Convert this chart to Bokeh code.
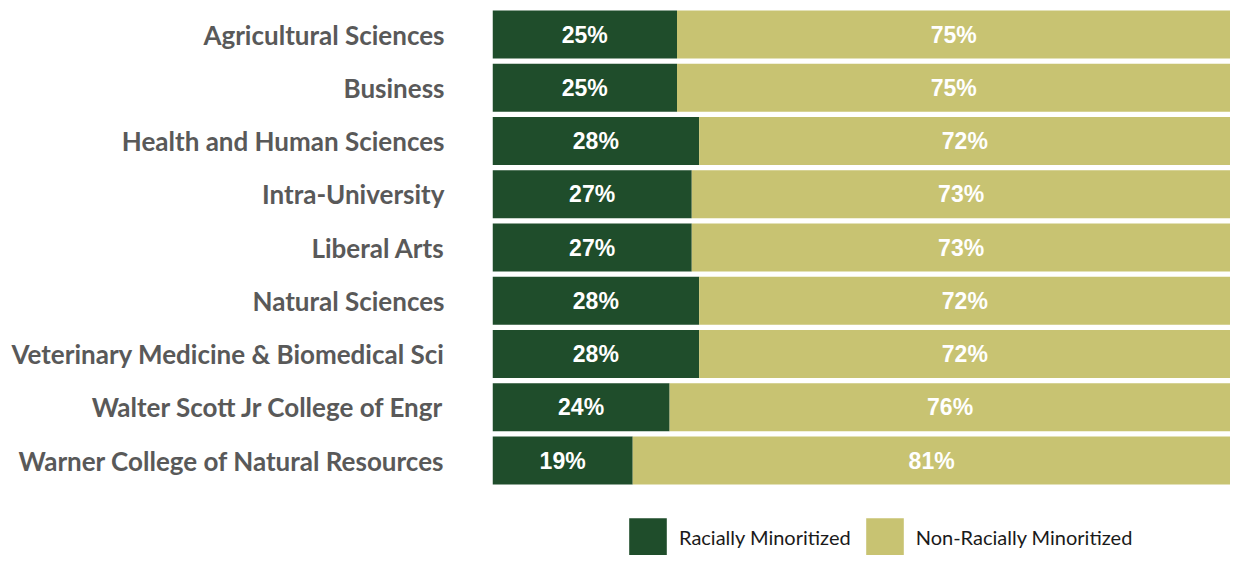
from bokeh.plotting import figure
from bokeh.models import ColumnDataSource, Range1d, Legend, LegendItem, FixedTicker
from bokeh.core.properties import value
from bokeh.embed import file_html
from bokeh.resources import INLINE

categories = [
    "Agricultural Sciences",
    "Business",
    "Health and Human Sciences",
    "Intra-University",
    "Liberal Arts",
    "Natural Sciences",
    "Veterinary Medicine & Biomedical Sci",
    "Walter Scott Jr College of Engr",
    "Warner College of Natural Resources",
]
racially_minoritized = [25, 25, 28, 27, 27, 28, 28, 24, 19]
non_racially_minoritized = [75, 75, 72, 73, 73, 72, 72, 76, 81]
series_names = ["Racially Minoritized", "Non-Racially Minoritized"]
colors = ["#1F4D2B", "#C8C372"]

row_index = list(range(len(categories)))

source = ColumnDataSource(data=dict(
    row=row_index,
    rm=racially_minoritized,
    nrm=non_racially_minoritized,
    rm_x=[v / 2 for v in racially_minoritized],
    nrm_x=[a + b / 2 for a, b in zip(racially_minoritized, non_racially_minoritized)],
    rm_lbl=[f"{v}%" for v in racially_minoritized],
    nrm_lbl=[f"{v}%" for v in non_racially_minoritized],
))

p = figure(
    width=1230, height=555,
    y_range=Range1d(start=9.784, end=-0.6385),
    x_range=Range1d(0, 100),
    x_axis_location=None,
    output_backend="svg", toolbar_location=None,
    min_border_left=492, min_border_right=0,
    min_border_top=0, min_border_bottom=0,
)
p.outline_line_color = None
p.xgrid.visible = False
p.ygrid.visible = False
p.background_fill_color = "white"
p.border_fill_color = "white"

renderers = p.hbar_stack(["rm", "nrm"], y="row", height=0.9, color=colors,
                         line_color=None, source=source)

for xcol, lcol in (("rm_x", "rm_lbl"), ("nrm_x", "nrm_lbl")):
    p.text(x=xcol, y="row", text=lcol, source=source,
           text_font=value("Liberation Sans"), text_font_style="bold",
           text_font_size="23px", text_color="white",
           text_align="center", text_baseline="middle")

ax = p.yaxis[0]
ax.ticker = FixedTicker(ticks=row_index)
ax.major_label_overrides = {i: c for i, c in zip(row_index, categories)}
ax.axis_line_color = None
ax.major_tick_line_color = None
ax.minor_tick_line_color = None
ax.major_tick_out = 0
ax.major_tick_in = 0
ax.major_label_standoff = 48
ax.major_label_text_font = "Lato"
ax.major_label_text_font_style = "bold"
ax.major_label_text_font_size = "26px"
ax.major_label_text_color = "#595959"

legend = Legend(
    items=[LegendItem(label=series_names[i], renderers=[renderers[i]]) for i in range(2)],
    orientation="horizontal",
    location=(132, -5),
    glyph_width=47, glyph_height=47,
    label_standoff=8, spacing=10,
    padding=0, margin=0,
    border_line_color=None, background_fill_alpha=0,
    label_text_font="Lato", label_text_font_size="20px",
    label_text_color="#1A1A1A",
)
p.add_layout(legend, "center")

open("out.html", "w").write(file_html(p, INLINE))
